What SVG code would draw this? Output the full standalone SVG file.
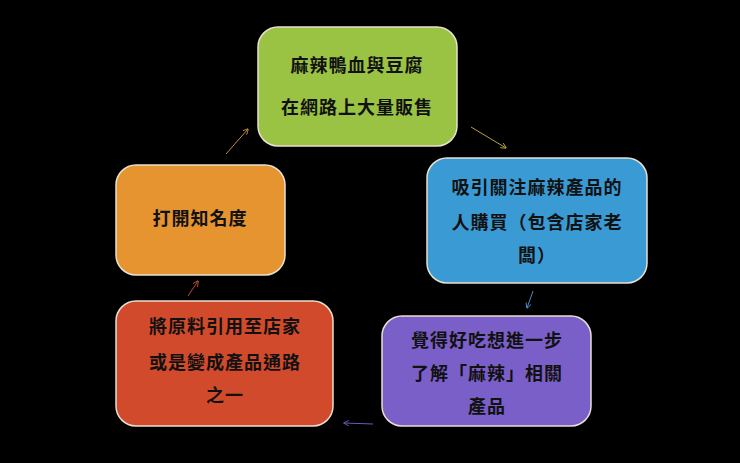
<svg xmlns="http://www.w3.org/2000/svg" width="740" height="463" viewBox="0 0 740 463">
<style>
.b{stroke:#e8e0d0;stroke-width:1.5}
text{font-family:"Noto Sans CJK TC","Noto Sans CJK SC",sans-serif;font-weight:bold;font-size:18px;fill:#111;text-anchor:middle;letter-spacing:1px}
.c{fill:none;stroke-width:1}
</style>
<defs>
<marker id="a" viewBox="0 0 10 10" refX="9" refY="5" markerWidth="6" markerHeight="6" orient="auto"><path d="M0,0L10,5L0,10" fill="none" stroke="context-stroke" stroke-width="1.5"/></marker>
</defs>
<rect width="740" height="463" fill="#000"/>
<g id="n1"><rect class="b" x="258" y="27" width="199" height="119" rx="20" fill="#9ac243"/><text x="357" y="72">麻辣鴨血與豆腐</text><text x="357" y="114">在網路上大量販售</text></g>
<g id="n2"><rect class="b" x="427" y="158" width="220" height="125" rx="20" fill="#3a9bd4"/><text x="537" y="194">吸引關注麻辣產品的</text><text x="537" y="229">人購買（包含店家老</text><text x="537" y="262">闆）</text></g>
<g id="n3"><rect class="b" x="382" y="316" width="209" height="110" rx="20" fill="#7a5fc8"/><text x="487" y="347">覺得好吃想進一步</text><text x="487" y="380">了解「麻辣」相關</text><text x="487" y="413">產品</text></g>
<g id="n4"><rect class="b" x="116" y="301" width="217" height="125" rx="20" fill="#d24a2c"/><text x="225" y="333">將原料引用至店家</text><text x="225" y="369">或是變成產品通路</text><text x="225" y="402">之一</text></g>
<g id="n5"><rect class="b" x="116" y="165" width="169" height="110" rx="20" fill="#e59430"/><text x="200" y="225">打開知名度</text></g>
<g id="edges">
<path class="c" stroke="#b8a040" d="M471,127L506,148" marker-end="url(#a)"/>
<path class="c" stroke="#4a8cc8" d="M533,291L527,308" marker-end="url(#a)"/>
<path class="c" stroke="#6a5ab8" d="M373,424L344,423" marker-end="url(#a)"/>
<path class="c" stroke="#c04a30" d="M188,296L198,281" marker-end="url(#a)"/>
<path class="c" stroke="#c08a40" d="M226,154L248,129" marker-end="url(#a)"/>
</g>
</svg>
